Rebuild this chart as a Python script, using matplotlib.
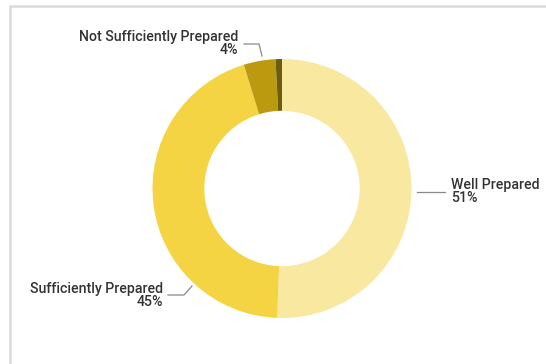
import matplotlib.pyplot as plt

# survey result: share of respondents per preparedness level
categories = ['Well Prepared', 'Sufficiently Prepared', 'Not Sufficiently Prepared', 'Not Prepared']
shares = [51, 45, 4, 0.8]
colors = ['#F9E8A0', '#F4D443', '#BC9A10', '#6E5C0E']

W, H = 546, 364
plt.rcParams['font.family'] = ['Roboto', 'DejaVu Sans']

fig = plt.figure(figsize=(W / 100, H / 100), dpi=100)
ax = fig.add_axes([0, 0, 1, 1])

# work in pixel-like units, y measured from the top
cx, cy, r = 282, 188.5, 129.5
wedges, _ = ax.pie(shares, colors=colors, startangle=90, counterclock=False,
                   center=(cx, H - cy), radius=r,
                   wedgeprops=dict(width=r * 0.4, edgecolor='none', linewidth=0))
ax.set_xlim(0, W)
ax.set_ylim(0, H)
ax.set_aspect('equal')
ax.axis('off')

# panel border (top and left edges visible)
ax.plot([10, 10, W + 5], [-5, H - 6, H - 6], color='#dadada', lw=1.8,
        solid_joinstyle='miter', clip_on=False)

# label layout: leader line points, text anchor, alignment
labels = {
    'Well Prepared': dict(line=[(417, 192), (445, 192)], x=451, y=189, ha='left'),
    'Sufficiently Prepared': dict(line=[(168, 295), (184, 295), (192, 286)], x=163, y=293, ha='right'),
    'Not Sufficiently Prepared': dict(line=[(244, 44), (259, 44), (262, 56)], x=238, y=41, ha='right'),
}

for name, share in zip(categories, shares):
    if name not in labels:
        continue
    spec = labels[name]
    xs = [p[0] for p in spec['line']]
    ys = [H - p[1] for p in spec['line']]
    ax.plot(xs, ys, color='#8a8a8a', lw=0.9)
    ax.text(spec['x'], H - spec['y'], name, ha=spec['ha'], va='baseline',
            fontsize=10.2, color='#333333', fontweight='medium')
    ax.text(spec['x'], H - spec['y'] - 12.5, f'{share:.0f}%', ha=spec['ha'], va='baseline',
            fontsize=10.2, color='#333333', fontweight='medium')

fig.savefig('out.png', dpi=100, facecolor='white')
